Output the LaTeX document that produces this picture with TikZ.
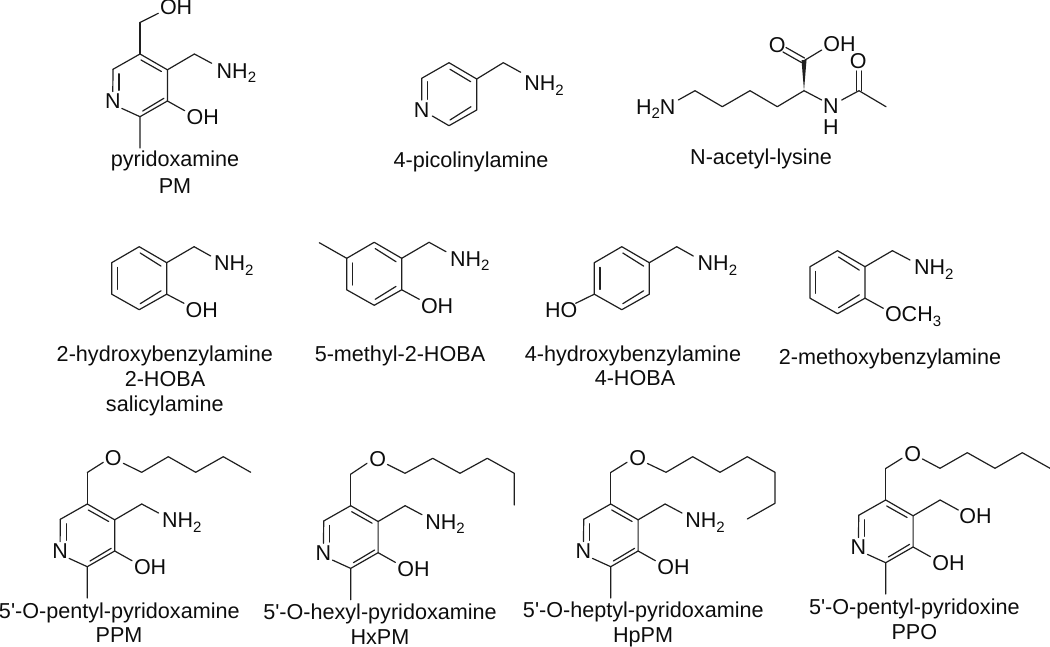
\documentclass[tikz,border=0pt]{standalone}
\usepackage{fontspec}
\setmainfont{Liberation Sans}
\newfontfamily\lblf{Liberation Sans}
\tikzset{
  atm/.style={inner sep=0pt,outer sep=0pt,anchor=base west,font=\lblf\fontsize{21.5}{24}\selectfont,text=black!95},
  atc/.style={inner sep=0pt,outer sep=0pt,anchor=center,font=\lblf\fontsize{21.5}{24}\selectfont,text=black!95},
  lbl/.style={inner sep=0pt,outer sep=0pt,anchor=base,font=\lblf\fontsize{21.6}{24}\selectfont,text=black!95},
  bnd/.style={line width=1.2pt,draw=black!88,line cap=round,line join=round}
}
\newcommand{\subnum}[1]{\raisebox{-4.5pt}{\fontsize{15}{15}\selectfont #1}}
\newcommand{\nhtwo}{NH\subnum{2}}
% pyridine fragment: #1 prefix, (#2,#3) = C5
\newcommand{\pyrcore}[3]{
  \coordinate (#1c5) at (#2,#3);
  \coordinate (#1c4) at (#2+27.4,#3+15.8);
  \coordinate (#1c3) at (#2+27.4,#3+47);
  \coordinate (#1c2) at (#2,#3+62.7);
  \coordinate (#1c6) at (#2-27,#3+15.3);
  \coordinate (#1me) at (#2,#3+94);
  \coordinate (#1ar) at (#2,#3-31.5);
  \coordinate (#1am) at (#2+54.4,#3);
  \node[atc] (#1n) at (#2-27.2,#3+47.6) {N};
  \node[atm] (#1oh) at (#2+46.7,#3+70.8) {OH};
  \draw[bnd] (#1c6) -- (#1c5) -- (#1c4) -- (#1c3) -- (#1c2) -- (#1me);
  \draw[bnd] (#1c5) -- (#1ar);
  \draw[bnd] (#1c4) -- (#1am);
  \draw[bnd] (#1c6) -- ([shift={(0,-10)}]#1n.center);
  \draw[bnd] ([shift={(6,4.5)}]#1c6) -- ++(0,16.5);
  \draw[bnd] (#1c2) -- ([shift={(9,6.8)}]#1n.center);
  \draw[bnd] (#1c3) -- ++(17.3,9.7);
  \draw[bnd] ([shift={(1,6)}]#1c5) -- ([shift={(-6,1.7)}]#1c4);
  \draw[bnd] ([shift={(-3.5,-2.7)}]#1c3) -- ([shift={(2.7,-5.7)}]#1c2);
}
% benzene ring: #1 prefix, (#2,#3) = ring carbon bearing CH2
\newcommand{\benz}[3]{
  \coordinate (#1a) at (#2,#3);
  \coordinate (#1b) at (#2-27.5,#3-16);
  \coordinate (#1c) at (#2-55,#3);
  \coordinate (#1d) at (#2-55,#3+31.5);
  \coordinate (#1e) at (#2-27.5,#3+47);
  \coordinate (#1f) at (#2,#3+31.5);
  \coordinate (#1g) at (#2+27.4,#3-16);
  \draw[bnd] (#1a) -- (#1b) -- (#1c) -- (#1d) -- (#1e) -- (#1f) -- cycle;
  \draw[bnd] (#1a) -- (#1g);
  \draw[bnd] ([shift={(-5.7,3.4)}]#1a) -- ([shift={(1,6.3)}]#1b);
  \draw[bnd] ([shift={(5.7,4.7)}]#1c) -- ([shift={(5.7,-4.8)}]#1d);
  \draw[bnd] ([shift={(1,-6)}]#1e) -- ([shift={(-5.7,-3.4)}]#1f);
}
\begin{document}
\begin{tikzpicture}[x=1pt,y=-1pt]
\useasboundingbox (0,0) rectangle (1050,647);
\fill[white] (0,0) rectangle (1050,647);

% ---- pyridoxamine
\pyrcore{pm}{140}{54}
\node[atm] (pmoh2) at (160,15) {OH};
\node[atm] (pmnh) at (216.7,78.3) {\nhtwo};
\draw[bnd] (pmar) -- (158.3,13.3);
\draw[bnd] (pmam) -- (211.7,63.3);
\node[lbl] (l1) at (175,166.7) {pyridoxamine};
\node[lbl] (l1b) at (175,193.5) {PM};

% ---- 4-picolinylamine
\coordinate (pa) at (476.7,79);
\coordinate (pb) at (449,62.7);
\coordinate (pc) at (421.7,78.3);
\node[atc] (pn) at (421.7,110) {N};
\coordinate (pe) at (449,125.7);
\coordinate (pf) at (476.7,110);
\coordinate (pg) at (503.3,62.7);
\node[atm] (pnh) at (524.3,91) {\nhtwo};
\draw[bnd] (421.7,100) -- (pc) -- (pb) -- (pa) -- (pf) -- (pe) -- (432.3,116);
\draw[bnd] (pa) -- (pg) -- (520.7,72.3);
\draw[bnd] (450,69.3) -- (470.7,81.7);
\draw[bnd] (427.3,81.7) -- (427.3,99.3);
\draw[bnd] (450,120) -- (471,106.7);
\node[lbl] (l2) at (471,168) {4-picolinylamine};

% ---- N-acetyl-lysine
\node[atm] (lh) at (636,114.3) {H\subnum{2}N};
\node[atc] (ln) at (831,106.5) {N};
\node[atc] (lnh) at (831,127.5) {H};
\node[atc] (lo) at (777.3,45) {O};
\node[atm] (loh) at (823.3,51.7) {OH};
\node[atc] (lo2) at (858.3,60.7) {O};
\coordinate (l1c) at (695,90.7);
\coordinate (l2c) at (722.3,106.7);
\coordinate (l3c) at (750,90.7);
\coordinate (l4c) at (777.3,106.7);
\coordinate (l5c) at (804,90.7);
\coordinate (l6c) at (804,60.7);
\coordinate (l7c) at (859,90.7);
\coordinate (l8c) at (886,106.7);
\draw[bnd] (678.3,100) -- (l1c) -- (l2c) -- (l3c) -- (l4c) -- (l5c) -- (821.7,100);
\draw[bnd] (841.7,100) -- (l7c) -- (l8c);
\fill[black!88] (l5c) -- (801.5,60.2) -- (806.5,60.2) -- cycle;
\draw[bnd] (l6c) -- (821.7,50);
\draw[bnd] (804.5,58) -- (786,47.5);
\draw[bnd] (801.5,62.5) -- (783,52);
\draw[bnd] (856.3,90.7) -- (856.3,71);
\draw[bnd] (861.7,90.7) -- (861.7,71);
\node[lbl] (l3) at (761,165) {N-acetyl-lysine};

% ---- 2-HOBA
\benz{a}{166.7}{262.7}
\draw[bnd] (ag) -- (210.7,256);
\draw[bnd] (af) -- (184,303.3);
\node[atm] (anh) at (214,271) {\nhtwo};
\node[atm] (aoh) at (185.7,317.3) {OH};
\node[lbl] (l4a) at (164.8,361) {2-hydroxybenzylamine};
\node[lbl] (l4b) at (165,386) {2-HOBA};
\node[lbl] (l4c) at (164.8,411) {salicylamine};

% ---- 5-methyl-2-HOBA
\benz{b}{401.7}{258.3}
\draw[bnd] (bg) -- (446,251.7);
\draw[bnd] (bf) -- (419.3,299.3);
\draw[bnd] (bc) -- (319.3,242.7);
\node[atm] (bnh) at (450,266) {\nhtwo};
\node[atm] (boh) at (421,313.3) {OH};
\node[lbl] (l5) at (400,361) {5-methyl-2-HOBA};

% ---- 4-HOBA
\benz{c}{649.3}{262.7}
\draw[bnd] (cg) -- (693.3,256);
\draw[bnd] (cd) -- (575.7,303.3);
\node[atm] (cnh) at (697.7,271) {\nhtwo};
\node[atm] (coh) at (545,317.3) {HO};
\node[lbl] (l6a) at (633,361) {4-hydroxybenzylamine};
\node[lbl] (l6b) at (635,385) {4-HOBA};

% ---- 2-methoxy
\benz{d}{865}{266.7}
\draw[bnd] (dg) -- (910,260);
\draw[bnd] (df) -- (883.3,308.3);
\node[atm] (dnh) at (914,275) {\nhtwo};
\node[atm] (doc) at (885,321.7) {OCH\subnum{3}};
\node[lbl] (l7) at (890,364) {2-methoxybenzylamine};

% ---- PPM
\pyrcore{q}{87.3}{504}
\node[atc] (qo) at (113.3,458.3) {O};
\node[atm] (qnh) at (162,527.7) {\nhtwo};
\draw[bnd] (qar) -- (103.3,462.3);
\draw[bnd] (123.3,463.3) -- (141.7,472.3) -- (168.3,456.7) -- (195.7,472.3) -- (223.3,456.7) -- (250.7,472.3);
\draw[bnd] (qam) -- (158.5,513);
\node[lbl] (l8a) at (119.3,618.3) {5'-O-pentyl-pyridoxamine};
\node[lbl] (l8b) at (119,642.7) {PPM};

% ---- HxPM
\pyrcore{r}{350.7}{505.7}
\node[atc] (ro) at (377.7,459.3) {O};
\node[atm] (rnh) at (425.4,529.4) {\nhtwo};
\draw[bnd] (rar) -- (367,463.3);
\draw[bnd] (387.5,464.5) -- (405,473.3) -- (432.7,458.3) -- (460,473.3) -- (487.3,458.3) -- (514.3,473.3) -- (514.3,505);
\draw[bnd] (ram) -- (422,514.7);
\node[lbl] (l9a) at (380,619.3) {5'-O-hexyl-pyridoxamine};
\node[lbl] (l9b) at (380,644) {HxPM};

% ---- HpPM
\pyrcore{s}{610.7}{504}
\node[atc] (so) at (637.7,458.3) {O};
\node[atm] (snh) at (685.4,527.7) {\nhtwo};
\draw[bnd] (sar) -- (627,462.3);
\draw[bnd] (647.5,463.5) -- (666,472.3) -- (692.7,456.7) -- (720,472.3) -- (747.3,456.7) -- (775,472.3) -- (775,503.3) -- (747.3,519);
\draw[bnd] (sam) -- (682,513);
\node[lbl] (l10a) at (643.3,617.7) {5'-O-heptyl-pyridoxamine};
\node[lbl] (l10b) at (643,642.7) {HpPM};

% ---- PPO
\pyrcore{t}{885.7}{500}
\node[atc] (to) at (912.7,454) {O};
\node[atm] (toh2) at (959.3,523.3) {OH};
\draw[bnd] (tar) -- (902,458.3);
\draw[bnd] (922.5,459) -- (940,468.3) -- (967.3,452.7) -- (995,468.3) -- (1022.3,452.7) -- (1050,468.3);
\draw[bnd] (tam) -- (958.3,510);
\node[lbl] (l11a) at (914.3,614.3) {5'-O-pentyl-pyridoxine};
\node[lbl] (l11b) at (914.3,639.3) {PPO};
\end{tikzpicture}
\end{document}
